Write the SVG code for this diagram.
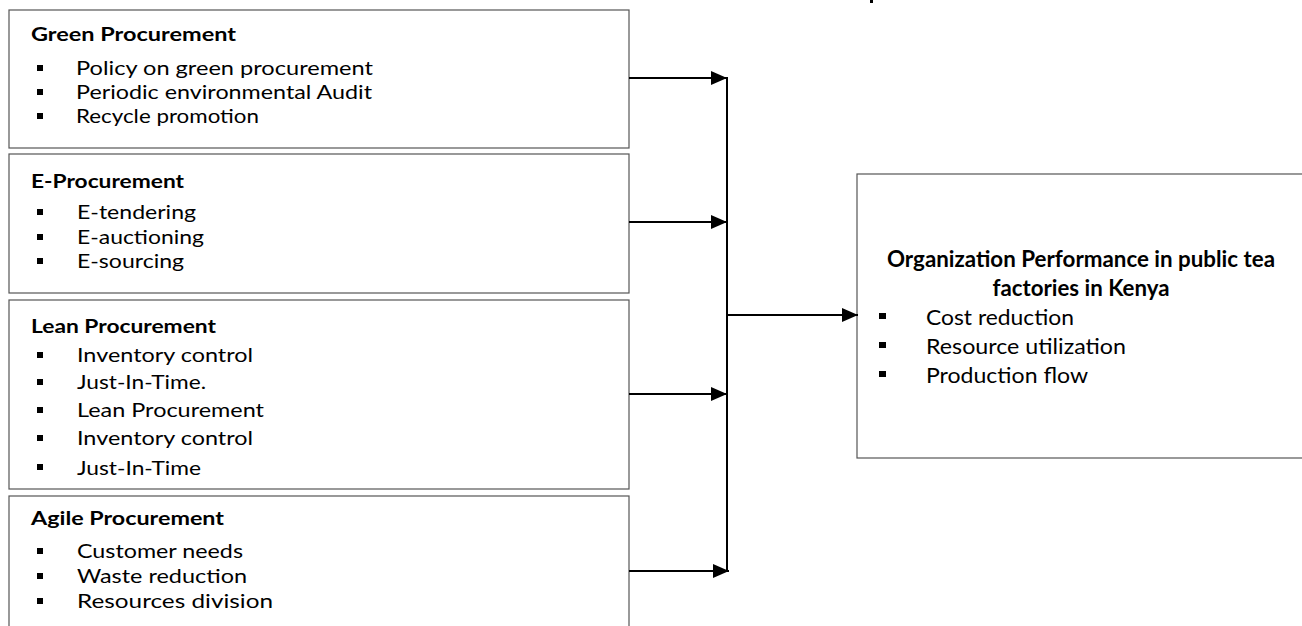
<svg xmlns="http://www.w3.org/2000/svg" width="1302" height="626" viewBox="0 0 1302 626">
  <style>
    .box { fill: #ffffff; stroke: #555555; stroke-width: 1.2; }
    .t { font-family: Lato, "Open Sans", "Liberation Sans", sans-serif; font-size: 19px; fill: #000; }
    .h { font-family: Lato, "Open Sans", "Liberation Sans", sans-serif; font-size: 19px; font-weight: bold; fill: #000; }
    .rt { font-family: Lato, "Open Sans", "Liberation Sans", sans-serif; font-size: 22px; fill: #000; }
    .rh { font-family: Lato, "Open Sans", "Liberation Sans", sans-serif; font-size: 22px; font-weight: bold; fill: #000; }
    .b { fill: #000; }
    .ln { stroke: #000; stroke-width: 2; fill: none; }
  </style>
  <defs>
    <marker id="arr" markerWidth="16" markerHeight="14" refX="16" refY="7" orient="auto" markerUnits="userSpaceOnUse">
      <path d="M0,0 L16,7 L0,14 Z" fill="#000"/>
    </marker>
    <clipPath id="clip3"><rect x="9" y="300" width="620" height="177"/></clipPath>
  </defs>

  <rect x="870" y="0" width="3" height="3" fill="#000"/>

  <g id="green">
    <rect class="box" x="9" y="10" width="620" height="138"/>
    <text class="h" x="31" y="41" textLength="205" lengthAdjust="spacingAndGlyphs">Green Procurement</text>
    <rect class="b" x="37" y="65" width="6" height="6"/>
    <rect class="b" x="37" y="89" width="6" height="6"/>
    <rect class="b" x="37" y="113" width="6" height="6"/>
    <text class="t" x="76" y="75" textLength="297" lengthAdjust="spacingAndGlyphs">Policy on green procurement</text>
    <text class="t" x="76" y="99" textLength="296" lengthAdjust="spacingAndGlyphs">Periodic environmental Audit</text>
    <text class="t" x="76" y="123" textLength="183" lengthAdjust="spacingAndGlyphs">Recycle promotion</text>
  </g>

  <g id="eproc">
    <rect class="box" x="9" y="154" width="620" height="139"/>
    <text class="h" x="31" y="188" textLength="153" lengthAdjust="spacingAndGlyphs">E-Procurement</text>
    <rect class="b" x="37" y="209" width="6" height="6"/>
    <rect class="b" x="37" y="234" width="6" height="6"/>
    <rect class="b" x="37" y="258" width="6" height="6"/>
    <text class="t" x="77" y="219" textLength="119" lengthAdjust="spacingAndGlyphs">E-tendering</text>
    <text class="t" x="77" y="244" textLength="127" lengthAdjust="spacingAndGlyphs">E-auctioning</text>
    <text class="t" x="77" y="268" textLength="107" lengthAdjust="spacingAndGlyphs">E-sourcing</text>
  </g>

  <g id="lean">
    <rect class="box" x="9" y="300" width="620" height="189"/>
    <text class="h" x="31" y="333" textLength="185" lengthAdjust="spacingAndGlyphs">Lean Procurement</text>
    <rect class="b" x="37" y="352" width="6" height="6"/>
    <rect class="b" x="37" y="379" width="6" height="6"/>
    <rect class="b" x="37" y="407" width="6" height="6"/>
    <rect class="b" x="37" y="435" width="6" height="6"/>
    <rect class="b" x="37" y="464" width="6" height="6"/>
    <g clip-path="url(#clip3)">
      <text class="t" x="77" y="362" textLength="176" lengthAdjust="spacingAndGlyphs">Inventory control</text>
      <text class="t" x="77" y="389" textLength="129" lengthAdjust="spacingAndGlyphs">Just-In-Time.</text>
      <text class="t" x="77" y="417" textLength="187" lengthAdjust="spacingAndGlyphs">Lean Procurement</text>
      <text class="t" x="77" y="445" textLength="176" lengthAdjust="spacingAndGlyphs">Inventory control</text>
      <text class="t" x="77" y="475" textLength="124" lengthAdjust="spacingAndGlyphs">Just-In-Time</text>
    </g>
  </g>

  <g id="agile">
    <rect class="box" x="9" y="496" width="620" height="140"/>
    <text class="h" x="31" y="525" textLength="193" lengthAdjust="spacingAndGlyphs">Agile Procurement</text>
    <rect class="b" x="37" y="548" width="6" height="6"/>
    <rect class="b" x="37" y="573" width="6" height="6"/>
    <rect class="b" x="37" y="598" width="6" height="6"/>
    <text class="t" x="77" y="558" textLength="166" lengthAdjust="spacingAndGlyphs">Customer needs</text>
    <text class="t" x="77" y="583" textLength="170" lengthAdjust="spacingAndGlyphs">Waste reduction</text>
    <text class="t" x="77" y="608" textLength="196" lengthAdjust="spacingAndGlyphs">Resources division</text>
  </g>

  <g id="performance">
    <rect class="box" x="857" y="174" width="460" height="284"/>
    <text class="rh" x="1081" y="267" text-anchor="middle" textLength="388" lengthAdjust="spacingAndGlyphs">Organization Performance in public tea</text>
    <text class="rh" x="1081" y="296" text-anchor="middle" textLength="177" lengthAdjust="spacingAndGlyphs">factories in Kenya</text>
    <rect class="b" x="879" y="313" width="7" height="6"/>
    <rect class="b" x="879" y="342" width="7" height="6"/>
    <rect class="b" x="879" y="371" width="7" height="6"/>
    <text class="rt" x="926" y="325" textLength="148" lengthAdjust="spacingAndGlyphs">Cost reduction</text>
    <text class="rt" x="926" y="354" textLength="200" lengthAdjust="spacingAndGlyphs">Resource utilization</text>
    <text class="rt" x="926" y="383" textLength="162" lengthAdjust="spacingAndGlyphs">Production flow</text>
  </g>

  <g id="connectors">
    <line class="ln" x1="629" y1="78" x2="727" y2="78" marker-end="url(#arr)"/>
    <line class="ln" x1="629" y1="222" x2="727" y2="222" marker-end="url(#arr)"/>
    <line class="ln" x1="629" y1="394" x2="727" y2="394" marker-end="url(#arr)"/>
    <line class="ln" x1="629" y1="571" x2="729" y2="571" marker-end="url(#arr)"/>
    <line class="ln" x1="727" y1="77" x2="727" y2="572"/>
    <line class="ln" x1="727" y1="315" x2="858" y2="315" marker-end="url(#arr)"/>
  </g>
</svg>
